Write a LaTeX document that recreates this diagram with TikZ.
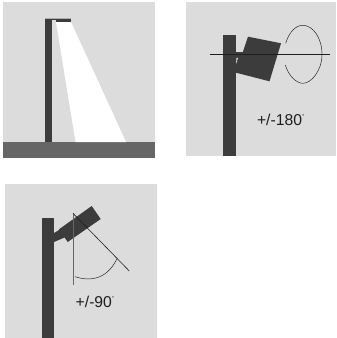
\documentclass[tikz,border=0pt]{standalone}
\usepackage{fontspec}
\setmainfont{Liberation Sans}
\usepackage{tikz}
\definecolor{cpanel}{HTML}{DCDCDC}
\definecolor{cdark}{HTML}{3C3C3C}
\definecolor{cground}{HTML}{666666}
\definecolor{cline}{HTML}{1E1E1E}
\newcommand{\degmark}{\raisebox{1.5pt}{\textsuperscript{\tiny°}}}
\begin{document}
\begin{tikzpicture}[
    x=0.03cm,y=-0.03cm,
    panel/.style={fill=cpanel},
    post/.style={fill=cdark},
    guide/.style={draw=cline,line width=0.5pt},
    lbl/.style={font=\fontsize{13.4}{15}\selectfont,text=cline,inner sep=0pt}]
    \useasboundingbox (0,0) rectangle (336,338);
    % street light
    \fill[panel] (3,2) rectangle (155,158);
    \fill[cground] (3,142) rectangle (155,158);
    \fill[white] (56,22) -- (71,22) -- (126,142) -- (75.5,142) -- cycle;
    \fill[post] (44.5,19) rectangle (52,142);
    \fill[cpanel!70!cdark] (44.5,18) rectangle (71,19);
    \fill[post] (56,19) rectangle (71,22);
    \fill[post] (44.5,19) rectangle (56,20);
    % rotation
    \fill[panel] (186,2) rectangle (336,156);
    \fill[post] (223,35) rectangle (235.5,156);
    \fill[post] (235,52) rectangle (245,73);
    \fill[post] (248,36.7) -- (281,43.3) -- (269.5,81.3) -- (236,72.7) -- cycle;
    \fill[cpanel] (236.5,58) -- (238,58) -- (236,64) -- cycle;
    \draw[guide] (210,54.3) -- (330,54.3);
    \draw[cline,line width=0.4pt] (285.7,43.3) .. controls (289,32) and (296,25.3) .. (302.7,25.3)
      .. controls (313,25.3) and (322,38) .. (322,54.3)
      .. controls (322,71) and (311,83.3) .. (303,83.3)
      .. controls (297,83.3) and (289,77) .. (285.3,65);
    \node[lbl] (pan) at (281,120) {+/-180\degmark};
    % tilt
    \fill[panel] (5,184) rectangle (157,338);
    \fill[post] (41.7,217.5) rectangle (54,338);
    \fill[post] (54,233) -- (64,227) -- (68,236) -- (54,242) -- cycle;
    \fill[post] (91.7,206) -- (100.7,219) -- (67.7,242) -- (59,229.3) -- cycle;
    \draw[cground,line width=0.8pt] (73,213.3) -- (73,285);
    \draw[guide] (73,213.3) -- (129.3,271);
    \draw[cline,line width=0.4pt] (75,276.7) .. controls (88,281) and (106,281) .. (116.7,259.3);
    \node[lbl] (tilt) at (95.3,302) {+/-90\degmark};
\end{tikzpicture}
\end{document}
